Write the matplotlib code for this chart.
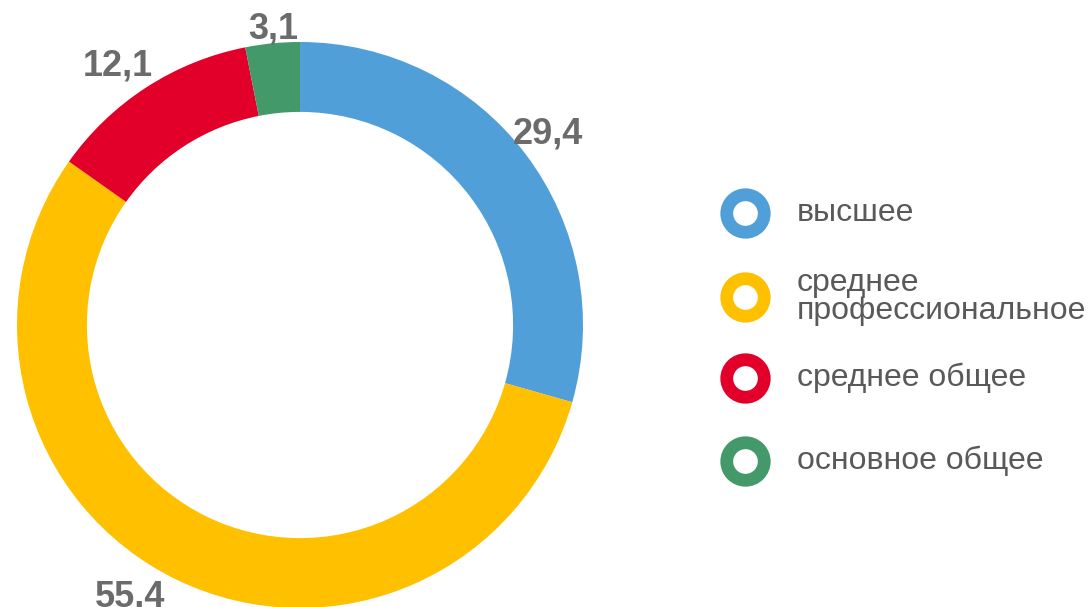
import numpy as np
import matplotlib.pyplot as plt

# Education level shares, %
categories = ["высшее", "среднее\nпрофессиональное", "среднее общее", "основное общее"]
values = [29.4, 55.4, 12.1, 3.1]
value_labels = ["29,4", "55.4", "12,1", "3,1"]
colors = ["#519FD8", "#FFC000", "#E2002A", "#43996A"]

plt.rcParams["font.family"] = ["Liberation Sans", "DejaVu Sans"]

W, H = 1088, 607
fig = plt.figure(figsize=(W / 100, H / 100), dpi=100)

# donut axes: centre (300, 325) px, radius 283 px
cx, cy, r = 300, 325, 283
ax = fig.add_axes([(cx - r) / W, 1 - (cy + r) / H, 2 * r / W, 2 * r / H])
wedges, _ = ax.pie(
    values,
    colors=colors,
    startangle=90,
    counterclock=False,
    radius=1,
    wedgeprops=dict(width=0.247, linewidth=0),
)
ax.set_xlim(-1, 1)
ax.set_ylim(-1, 1)
ax.set_aspect("equal")
ax.axis("off")

# value labels just outside the ring (distance, angle nudge in degrees)
# anchored on the baseline so the digits themselves sit centred on the point
label_place = [(1.113, 1.0), (1.123, -6.7), (1.13, 1.8), (1.063, -0.4)]
for w, txt, (d, da) in zip(wedges, value_labels, label_place):
    ang = np.deg2rad((w.theta1 + w.theta2) / 2 + da)
    ax.annotate(txt, xy=(d * np.cos(ang), d * np.sin(ang)), xytext=(0, -9.5),
                textcoords="offset points", ha="center", va="baseline",
                fontsize=26, fontweight="bold", color="#6B6B6B",
                annotation_clip=False)

# legend drawn by hand so the rows stay evenly spaced
lax = fig.add_axes([0, 0, 1, 1])
lax.set_xlim(0, W)
lax.set_ylim(H, 0)
lax.axis("off")
row_y = [213, 297, 378, 461]
for name, col, y in zip(categories, colors, row_y):
    lax.plot(745, y, marker="o", ms=27, mew=9.2, mfc="white", mec=col)
    lax.text(797, y, name, ha="left", va="center", fontsize=23,
             color="#595959", linespacing=0.95)

fig.savefig("out.png", dpi=100)
